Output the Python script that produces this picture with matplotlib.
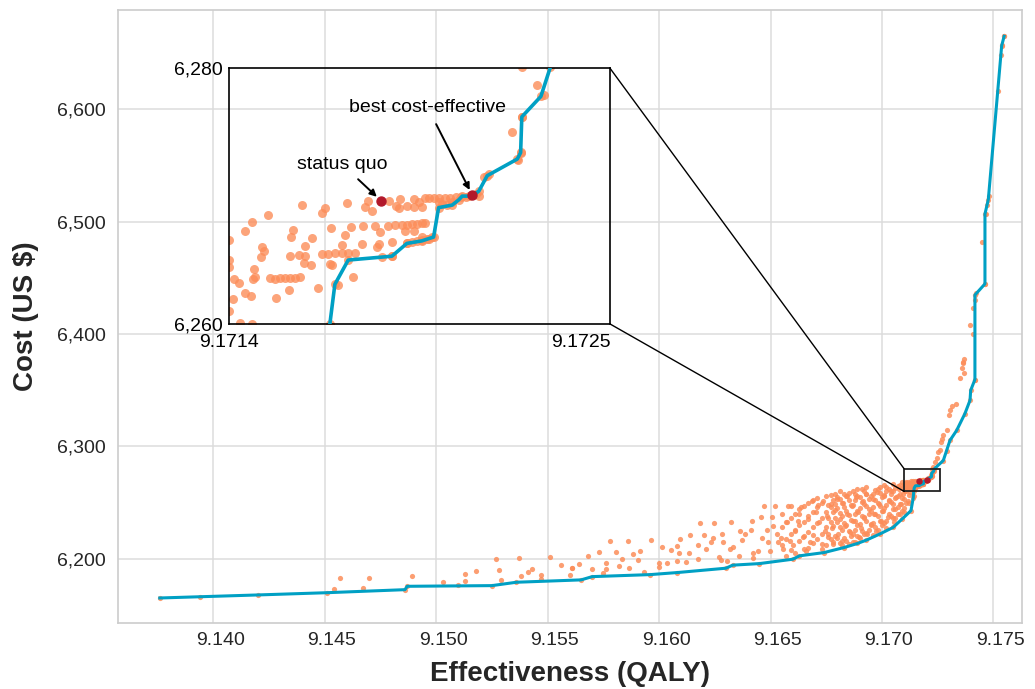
import matplotlib.pyplot as plt
from matplotlib.patches import Rectangle, ConnectionPatch
from matplotlib.ticker import FuncFormatter
from matplotlib.transforms import ScaledTranslation
import numpy as np

plt.rcParams['font.family'] = ['Liberation Sans', 'DejaVu Sans']

# efficient frontier (effectiveness in QALY, cost in US $)
front_x = [9.1376, 9.1394, 9.1420, 9.1451, 9.1486, 9.1487, 9.1525, 9.1536, 9.1565, 9.1570,
           9.1596, 9.1608, 9.1630, 9.1633, 9.1645, 9.1660, 9.1663, 9.1674, 9.1683, 9.1689,
           9.1693, 9.1699, 9.1705, 9.1709, 9.1713, 9.17140, 9.171425, 9.171446, 9.171502,
           9.171685, 9.171748, 9.171811, 9.17186, 9.171881, 9.171938, 9.171965, 9.17198,
           9.172008, 9.172036, 9.17205, 9.172085, 9.172211, 9.172225, 9.17223, 9.17231,
           9.17235, 9.17275, 9.1729, 9.17305, 9.17335, 9.17372, 9.17395, 9.17398, 9.17417,
           9.17417, 9.17462, 9.17462, 9.17477, 9.17537, 9.17548]
front_y = [6165.2, 6166.3, 6167.9, 6169.9, 6172.6, 6175.6, 6176.2, 6179.2, 6181.3, 6184.2,
           6186.0, 6187.8, 6191.7, 6194.4, 6195.8, 6199.7, 6202.7, 6205.6, 6210.1, 6213.7,
           6216.7, 6222.1, 6228.0, 6235.4, 6242.9, 6254.0, 6260.0, 6263.1, 6265.0,
           6265.3, 6266.3, 6266.5, 6266.8, 6269.1, 6269.3, 6269.7, 6270.0,
           6270.0, 6270.2, 6270.4, 6271.6, 6272.9, 6273.4, 6276.2, 6277.8,
           6280.1, 6287.5, 6296.4, 6305.4, 6314.3, 6329.2, 6341.1, 6350.0, 6359.6,
           6434.8, 6444.7, 6506.9, 6519.7, 6656.6, 6665.0]

# simulated strategies, low-effectiveness tail
tail_x = [9.1457, 9.1454, 9.1470, 9.1467, 9.1489, 9.1503, 9.1510, 9.1513, 9.1513, 9.1518,
          9.1527, 9.1528, 9.1529, 9.1537, 9.1538, 9.1541, 9.1543, 9.1547, 9.1547, 9.1551,
          9.1556, 9.1560, 9.1561, 9.1564, 9.1568, 9.1570, 9.1573, 9.15609, 9.15761, 9.15761,
          9.15750, 9.15780, 9.15806, 9.15834, 9.15821, 9.15860, 9.15867, 9.15882, 9.15906,
          9.15915, 9.15934, 9.15963, 9.16000, 9.15999, 9.16015, 9.16037, 9.16053, 9.16082,
          9.16090, 9.16079, 9.16094, 9.16122, 9.16136, 9.16139, 9.16174, 9.16174, 9.16184,
          9.16202, 9.16209, 9.16233, 9.16241, 9.16247, 9.16268, 9.16284, 9.16279, 9.16288,
          9.16304, 9.16318, 9.16323, 9.16331, 9.16359, 9.16363, 9.16374, 9.16387, 9.16416,
          9.16414, 9.16420, 9.16423, 9.16445, 9.16457, 9.16461, 9.16472, 9.16483, 9.16490,
          9.16498, 9.16508, 9.16513, 9.16520, 9.16528, 9.16535, 9.16546, 9.16555, 9.16573,
          9.16577, 9.16587, 9.16602, 9.16611, 9.16625, 9.16629, 9.16637, 9.16644, 9.16659,
          9.16670, 9.16677, 9.16686, 9.16692, 9.16704, 9.16712, 9.16718, 9.16730, 9.16737,
          9.16744, 9.16752, 9.16757, 9.16770, 9.16774, 9.16782, 9.16789, 9.16797, 9.16804,
          9.16812, 9.16821, 9.16826, 9.16834, 9.16842, 9.16844, 9.16857, 9.16864, 9.16869,
          9.16878, 9.16883, 9.16891, 9.16898, 9.16906, 9.16913, 9.16921, 9.16928, 9.16934,
          9.16943, 9.16951, 9.16958, 9.16964, 9.16973, 9.16979, 9.16988, 9.16994, 9.17003,
          9.17009, 9.17018, 9.17026, 9.17033, 9.17040, 9.17048, 9.17055, 9.17063, 9.17070,
          9.17078, 9.17084, 9.17093, 9.17100, 9.17111, 9.17118, 9.17126, 9.17135, 9.17143,
          9.17152]
tail_y = [6182.8, 6173.5, 6183.3, 6174.1, 6184.6, 6179.5, 6176.8, 6186.3, 6180.1, 6189.6,
          6200.3, 6190.2, 6181.0, 6200.9, 6184.8, 6188.4, 6191.1, 6185.4, 6182.4, 6201.8,
          6194.9, 6186.0, 6192.2, 6195.5, 6202.9, 6191.1, 6206.3, 6191.7, 6196.4, 6191.3,
          6187.5, 6216.1, 6206.5, 6200.0, 6193.8, 6216.1, 6191.7, 6204.7, 6199.1,
          6207.1, 6188.7, 6217.0, 6196.7, 6192.9, 6211.0, 6196.7, 6208.0, 6211.6,
          6205.6, 6198.2, 6217.6, 6197.1, 6205.6, 6221.4, 6200.3, 6212.5, 6231.9,
          6221.4, 6209.2, 6215.4, 6218.5, 6231.9, 6201.8, 6222.1, 6198.8, 6214.6,
          6198.2, 6208.7, 6232.8, 6210.7, 6202.7, 6225.0, 6216.7, 6222.1, 6233.3,
          6225.9, 6205.6, 6201.2, 6207.1, 6237.5, 6219.0, 6246.7, 6225.9, 6215.4,
          6207.1, 6236.9, 6229.5, 6246.7, 6222.1, 6214.6, 6219.0, 6208.7, 6232.4,
          6247.3, 6216.1, 6212.5, 6225.0, 6233.3, 6239.9, 6246.4, 6219.6, 6207.1,
          6235.4, 6214.6, 6251.8, 6221.2, 6241.3, 6247.9, 6232.4, 6213.1, 6251.8,
          6225.0, 6238.4, 6219.9, 6248.8, 6227.9, 6213.1, 6243.5, 6253.3, 6222.1,
          6235.4, 6216.1, 6249.4, 6229.5, 6256.3, 6239.9, 6223.5, 6247.3, 6214.6,
          6233.9, 6254.7, 6241.3, 6219.6, 6227.9, 6251.8, 6236.9, 6257.8, 6222.1,
          6244.4, 6231.0, 6253.3, 6239.9, 6225.0, 6259.2, 6248.8, 6233.9, 6242.9,
          6256.3, 6227.9, 6236.9, 6251.8, 6260.7, 6244.4, 6232.4, 6254.7, 6239.9,
          6262.2, 6248.8, 6257.8, 6241.3, 6263.7, 6251.8, 6259.2, 6266.7, 6256.3,
          6263.7]

# dense band just above the frontier
band_x = [9.1676, 9.1676, 9.1676, 9.1678, 9.1678, 9.1678, 9.1678, 9.1680, 9.1680, 9.1680,
          9.1680, 9.1682, 9.1682, 9.1682, 9.1682, 9.1684, 9.1684, 9.1684, 9.1684, 9.1686,
          9.1686, 9.1686, 9.1688, 9.1688, 9.1688, 9.1688, 9.1688, 9.1690, 9.1690, 9.1690,
          9.1690, 9.1692, 9.1692, 9.1692, 9.1692, 9.1694, 9.1694, 9.1694, 9.1696, 9.1696,
          9.1696, 9.1696, 9.1698, 9.1698, 9.1698, 9.1698, 9.1700, 9.1700, 9.1700, 9.1702,
          9.1702, 9.1702, 9.1702, 9.1704, 9.1704, 9.1704, 9.1706, 9.1706, 9.1706, 9.1706,
          9.1708, 9.1708, 9.1708, 9.1708, 9.1710, 9.1710, 9.1710, 9.1710, 9.1712, 9.1712,
          9.1712,
          9.1655, 9.1655, 9.1655, 9.1659, 9.1659, 9.1659, 9.1659, 9.1663, 9.1663, 9.1663,
          9.1667, 9.1667, 9.1667, 9.1667, 9.1671, 9.1671, 9.1671, 9.1671, 9.1675, 9.1675,
          9.1675, 9.1675, 9.1679, 9.1679, 9.1679, 9.1679, 9.1683, 9.1683, 9.1683, 9.1683,
          9.1687, 9.1687, 9.1687, 9.1687, 9.1691, 9.1691, 9.1691, 9.1691, 9.1695, 9.1695,
          9.1695, 9.1699, 9.1699, 9.1699, 9.1699, 9.1703, 9.1703, 9.1703, 9.1707, 9.1707,
          9.1707, 9.1711, 9.1711, 9.1711,
          9.1657, 9.1657, 9.1657, 9.1661, 9.1661, 9.1661, 9.1665, 9.1665, 9.1665, 9.1665,
          9.1669, 9.1669, 9.1669, 9.1669, 9.1673, 9.1673, 9.1673, 9.1673, 9.1677, 9.1677,
          9.1677, 9.1677, 9.1681, 9.1681, 9.1681, 9.1681, 9.1681, 9.1685, 9.1685, 9.1685,
          9.1685, 9.1685, 9.1689, 9.1689, 9.1689, 9.1689, 9.1689, 9.1693, 9.1693, 9.1693,
          9.1693, 9.1693, 9.1697, 9.1697, 9.1697, 9.1697, 9.1701, 9.1701, 9.1701, 9.1701,
          9.1705, 9.1705, 9.1705, 9.1705, 9.1709, 9.1709, 9.1709, 9.1709]
band_y = [6222, 6236, 6248, 6215, 6229, 6242, 6252, 6219, 6233, 6245,
          6255, 6212, 6226, 6238, 6250, 6216, 6230, 6243, 6256, 6220,
          6235, 6248, 6215, 6226, 6240, 6252, 6258, 6219, 6231, 6245,
          6255, 6222, 6236, 6249, 6260, 6226, 6240, 6253, 6221, 6232,
          6246, 6258, 6226, 6238, 6250, 6262, 6230, 6243, 6255, 6234,
          6248, 6260, 6264, 6238, 6251, 6258, 6236, 6244, 6254, 6263,
          6240, 6249, 6258, 6266, 6245, 6253, 6261, 6265, 6250, 6257,
          6262,
          6212, 6228, 6240, 6208, 6222, 6236, 6247, 6216, 6230, 6244,
          6210, 6224, 6238, 6250, 6218, 6232, 6246, 6254, 6212, 6228,
          6242, 6256, 6220, 6236, 6249, 6258, 6219, 6232, 6246, 6258,
          6222, 6234, 6248, 6260, 6225, 6238, 6251, 6262, 6230, 6243,
          6256, 6234, 6247, 6259, 6264, 6240, 6252, 6262, 6246, 6256,
          6265, 6250, 6260, 6268,
          6203, 6218, 6233, 6205, 6226, 6240, 6209, 6220, 6233, 6247,
          6214, 6228, 6242, 6252, 6209, 6222, 6236, 6250, 6218, 6233,
          6246, 6257, 6214, 6228, 6241, 6253, 6260, 6213, 6225, 6239,
          6252, 6259, 6220, 6230, 6243, 6256, 6262, 6223, 6234, 6247,
          6258, 6264, 6228, 6240, 6252, 6261, 6232, 6245, 6257, 6266,
          6236, 6249, 6260, 6267, 6243, 6254, 6263, 6268]

# strategies inside the zoomed window
zoom_x = [9.172295, 9.172324, 9.17219, 9.17223, 9.172225, 9.172215, 9.172071, 9.172092, 9.17205,
          9.171671, 9.17172, 9.171702, 9.171713, 9.171776, 9.171776, 9.171822, 9.171839, 9.17186,
          9.171881, 9.171909, 9.17193, 9.171952, 9.171973, 9.171994, 9.171811, 9.171881, 9.171938,
          9.171797, 9.171748, 9.171587, 9.1716, 9.171573, 9.171495, 9.171404, 9.17139, 9.171309,
          9.171166, 9.171067, 9.171004, 9.171271, 9.171264, 9.17132, 9.171428, 9.171488, 9.171514,
          9.171566, 9.171615, 9.171636, 9.171667, 9.171699, 9.171727, 9.171748, 9.171769, 9.17179,
          9.171811, 9.171825, 9.17174, 9.171776, 9.171811, 9.171839, 9.171559, 9.171629, 9.171685,
          9.171474, 9.171622, 9.17139, 9.171418, 9.171446, 9.171474, 9.171502, 9.171531, 9.17132,
          9.171295, 9.171257, 9.171135, 9.171149, 9.171142, 9.171315, 9.171345, 9.171425, 9.171432,
          9.171107, 9.171173, 9.171194, 9.171215, 9.171236, 9.171257, 9.171278, 9.171299, 9.171102,
          9.171025, 9.171042, 9.171254, 9.171376, 9.17146, 9.171067, 9.171093, 9.171018, 9.171049,
          9.171000, 9.171748, 9.171769, 9.17179, 9.171811, 9.171832, 9.171853, 9.171895, 9.171916,
          9.171685, 9.171643]
zoom_y = [6278.72, 6277.88, 6275.01, 6276.18, 6273.44, 6272.84, 6271.48, 6271.74, 6270.04,
          6269.59, 6269.78, 6269.2, 6269.1, 6269.78, 6269.12, 6269.83, 6269.83, 6269.83,
          6269.83, 6269.83, 6269.83, 6269.91, 6269.91, 6269.96, 6269.12, 6269.52, 6269.52,
          6269.52, 6269.25, 6269.65, 6268.86, 6269.12, 6269.44, 6269.05, 6268.68, 6269.31,
          6268.55, 6267.24, 6266.59, 6267.35, 6266.77, 6266.07, 6267.48, 6266.98, 6267.56,
          6267.63, 6267.63, 6267.16, 6267.69, 6267.74, 6267.74, 6267.74, 6267.82, 6267.82,
          6267.87, 6267.87, 6267.29, 6267.24, 6266.77, 6266.64, 6266.25, 6266.25, 6266.38,
          6266.2, 6265.99, 6265.46, 6265.46, 6265.52, 6265.52, 6265.52, 6265.57, 6265.33,
          6265.39, 6265.33, 6265.2, 6265.73, 6266.04, 6264.76, 6264.63, 6264.68, 6264.6,
          6264.29, 6263.58, 6263.5, 6263.58, 6263.58, 6263.63, 6263.63, 6263.69, 6263.5,
          6263.5, 6263.24, 6262.64, 6262.85, 6263.06, 6262.46, 6262.2, 6261.99, 6260.1,
          6264.42, 6266.3, 6266.43, 6266.51, 6266.56, 6266.64, 6266.77, 6269.39, 6269.33,
          6265.33, 6265.25]

# strategies beyond the zoomed window, near the upper frontier
upper_x = [9.17548, 9.17537, 9.17532, 9.17521, 9.17481, 9.17472, 9.17465, 9.17450, 9.17462,
           9.17421, 9.17417, 9.17407, 9.17396, 9.17409, 9.17368, 9.17365, 9.17365, 9.17359,
           9.17368, 9.17350, 9.17417, 9.17332, 9.17313, 9.17305, 9.17302, 9.17293, 9.17275,
           9.17268, 9.17263, 9.17260, 9.17252, 9.17245, 9.17238, 9.17230, 9.17223]
upper_y = [6664.9, 6657.2, 6648.2, 6616.4, 6522.6, 6515.2, 6506.9, 6482.4, 6444.7,
           6436.3, 6430.4, 6423.5, 6408.0, 6400.0, 6377.7, 6375.3, 6373.9, 6369.9,
           6365.5, 6360.5, 6359.6, 6338.1, 6335.7, 6332.8, 6327.7, 6314.3, 6309.8,
           6306.9, 6303.8, 6297.3, 6294.9, 6289.9, 6286.0, 6282.1, 6280.1]

status_quo = (9.171639, 6269.65)
best_ce = (9.172022, 6270.09)

pts_x = np.array(front_x + tail_x + band_x + zoom_x + upper_x)
pts_y = np.array(front_y + tail_y + band_y + zoom_y + upper_y)

orange = '#fc8d59'
blue = '#00a0c4'
red = '#b2182b'
grid_c = '#dcdcdc'
text_c = '#262626'

comma = FuncFormatter(lambda v, p: '{:,.0f}'.format(v))

fig = plt.figure(figsize=(10.35, 6.89), dpi=100)
ax = fig.add_axes([0.1143, 0.0954, 0.8731, 0.8901])

ax.scatter(pts_x, pts_y, s=14, color=orange, alpha=0.85, linewidths=0, zorder=2)
ax.plot(front_x, front_y, color=blue, lw=2.2, zorder=3)
ax.scatter([status_quo[0], best_ce[0]], [status_quo[1], best_ce[1]], s=13, color=red, zorder=4)

ax.set_xlim(9.13574, 9.17628)
ax.set_ylim(6142.7, 6688.4)
ax.set_xticks([9.140, 9.145, 9.150, 9.155, 9.160, 9.165, 9.170, 9.175])
ax.xaxis.set_major_formatter(FuncFormatter(lambda v, p: '%.3f' % v))
ax.set_yticks([6200, 6300, 6400, 6500, 6600])
ax.yaxis.set_major_formatter(comma)
ax.grid(True, color=grid_c, lw=1.1)
ax.set_axisbelow(True)
for s in ax.spines.values():
    s.set_color('#cccccc')
    s.set_linewidth(1.2)
ax.tick_params(length=0, labelsize=14, labelcolor=text_c, pad=6)
ax.tick_params(axis='y', pad=9)
# x tick labels sit slightly right of their grid lines in the original
shift = ScaledTranslation(5 / 72, 0, fig.dpi_scale_trans)
for lab in ax.get_xticklabels():
    lab.set_transform(lab.get_transform() + shift)
ax.set_xlabel('Effectiveness (QALY)', fontsize=20, fontweight='bold', color=text_c, labelpad=9)
ax.set_ylabel('Cost (US $)', fontsize=20, fontweight='bold', color=text_c, labelpad=13)

# zoom window
zx0, zx1, zy0, zy1 = 9.1710, 9.1726, 6260, 6280
ax.add_patch(Rectangle((zx0, zy0), zx1 - zx0, zy1 - zy0, fill=False,
                       edgecolor='#222222', lw=1.3, zorder=5))

axins = fig.add_axes([0.2208, 0.5298, 0.3686, 0.3711])
axins.patch.set_alpha(0)
axins.scatter(pts_x, pts_y, s=42, color=orange, alpha=0.8, linewidths=0, zorder=2)
axins.plot(front_x, front_y, color=blue, lw=2.6, zorder=3)
axins.scatter([status_quo[0], best_ce[0]], [status_quo[1], best_ce[1]], s=42, color=red, zorder=4)
axins.set_xlim(zx0, zx1)
axins.set_ylim(zy0, zy1)
axins.set_xticks([zx0, 9.17248], ['9.1714', '9.1725'])
axins.set_yticks([zy0, zy1], ['6,260', '6,280'])
axins.grid(False)
for s in axins.spines.values():
    s.set_color('black')
    s.set_linewidth(1.2)
axins.tick_params(length=0, labelsize=14, labelcolor='black', pad=4)
axins.tick_params(axis='x', pad=7)

axins.annotate('status quo', xy=status_quo, xytext=(9.171476, 6272.5),
               ha='center', va='center', fontsize=14,
               arrowprops=dict(arrowstyle='-|>', color='black', lw=1.4,
                               mutation_scale=10, shrinkA=4, shrinkB=4))
axins.annotate('best cost-effective', xy=best_ce, xytext=(9.171836, 6276.9),
               ha='center', va='center', fontsize=14,
               arrowprops=dict(arrowstyle='-|>', color='black', lw=1.4,
                               mutation_scale=10, shrinkA=4, shrinkB=4))

# connectors between zoom window and inset
for yy in (zy1, zy0):
    con = ConnectionPatch(xyA=(zx1, yy), coordsA=axins.transData,
                          xyB=(zx0, yy), coordsB=ax.transData,
                          color='black', lw=1.0)
    fig.add_artist(con)

plt.savefig('out.png', dpi=100)
